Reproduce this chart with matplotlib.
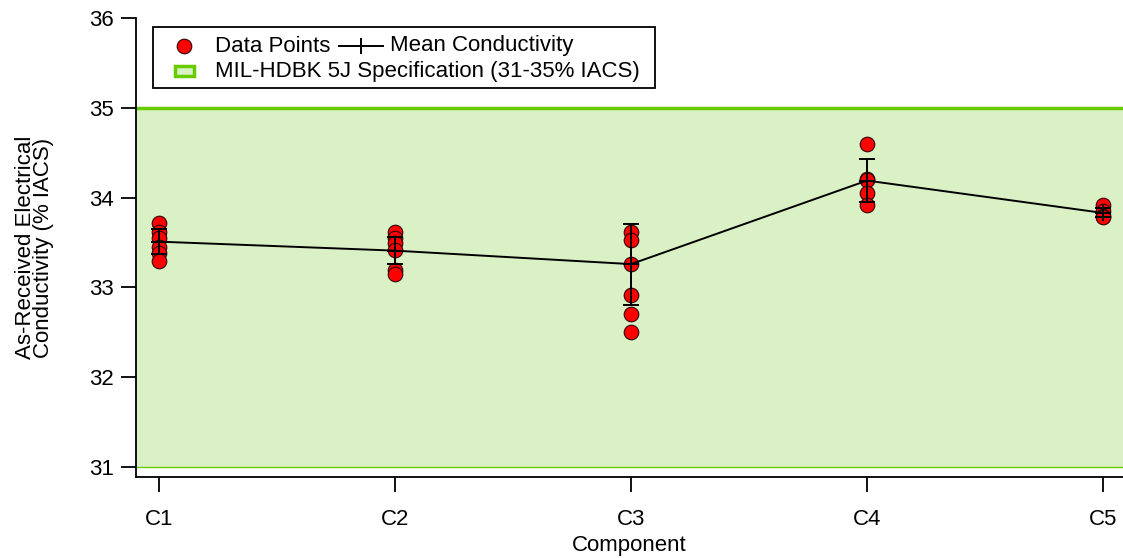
import matplotlib
matplotlib.use("Agg")
import matplotlib.pyplot as plt
from matplotlib.lines import Line2D
from matplotlib.patches import Rectangle

plt.rcParams['font.family'] = ['Liberation Sans', 'DejaVu Sans']

components = ["C1", "C2", "C3", "C4", "C5"]
data_points = [
    [33.72, 33.62, 33.55, 33.45, 33.38, 33.30],
    [33.62, 33.55, 33.50, 33.42, 33.20, 33.15],
    [33.62, 33.53, 33.26, 32.92, 32.71, 32.50],
    [34.60, 34.21, 34.20, 34.05, 33.92],
    [33.92, 33.85, 33.80, 33.78],
]
mean_values = [33.51, 33.41, 33.26, 34.19, 33.83]
mean_errors = [0.14, 0.15, 0.45, 0.24, 0.05]
spec_low, spec_high = 31, 35
y_ticks = [31, 32, 33, 34, 35, 36]

FS = 16
W, H = 1123, 558
fig = plt.figure(figsize=(W / 100, H / 100), dpi=100)
ax = fig.add_axes([136 / W, 1 - 477 / H, 1 - 136 / W, (477 - 18) / H])

band_fill = '#daf1c6'
band_line = '#66cc00'
ax.axhspan(spec_low, spec_high, color=band_fill, lw=0, zorder=0)
ax.axhline(spec_high, color=band_line, lw=2.5, zorder=1)
ax.axhline(spec_low, color=band_line, lw=1, zorder=1)

xs = list(range(1, len(components) + 1))
for x, pts in zip(xs, data_points):
    ax.plot([x] * len(pts), pts, 'o', ms=10.5, mfc='#ff0000', mec='#300000',
            mew=0.8, zorder=2, clip_on=False)

ax.errorbar(xs, mean_values, yerr=mean_errors, color='black', lw=1.4,
            marker='+', ms=12, mew=1.4, capsize=5.5, capthick=1.4, zorder=3)

ax.set_xlim(0.902, 5.085)
ax.set_ylim(30.89, 36)
ax.set_xticks(xs)
ax.set_xticklabels(components)
ax.set_yticks(y_ticks)
ax.tick_params(axis='both', direction='out', length=11, width=1.3,
               labelsize=FS, color='black')
ax.tick_params(axis='y', pad=5)
ax.tick_params(axis='x', pad=12)
for s in ['top', 'right']:
    ax.spines[s].set_visible(False)
for s in ['left', 'bottom']:
    ax.spines[s].set_linewidth(1.3)

ax.set_xlabel("Component", fontsize=FS, labelpad=4)
ax.set_ylabel("As-Received Electrical\nConductivity (% IACS)", fontsize=FS,
              labelpad=25, linespacing=0.85)

# Legend (custom layout: two entries on the first row, one on the second)
def fx(px):
    return px / W

def fy(py):
    return 1 - py / H

fig.add_artist(Rectangle((fx(153), fy(88)), fx(655) - fx(153), fy(27) - fy(88),
                         transform=fig.transFigure, fill=False, ec='black', lw=1.3))
fig.add_artist(Line2D([fx(184)], [fy(46)], transform=fig.transFigure, marker='o',
                      ms=10.5, mfc='#ff0000', mec='#300000', mew=0.8, ls='none'))
fig.text(fx(215), fy(46), "Data Points", fontsize=FS, va='center', ha='left')
fig.add_artist(Line2D([fx(339), fx(383)], [fy(46), fy(46)], transform=fig.transFigure,
                      color='black', lw=1.4))
fig.add_artist(Line2D([fx(361)], [fy(46)], transform=fig.transFigure, marker='|',
                      ms=12, mew=1.4, color='black', ls='none'))
fig.text(fx(390), fy(46), "Mean Conductivity", fontsize=FS, va='center', ha='left')
fig.add_artist(Rectangle((fx(175), fy(76)), fx(194) - fx(175), fy(66) - fy(76),
                         transform=fig.transFigure, fc=band_fill, ec=band_line, lw=2.5))
fig.text(fx(215), fy(71), "MIL-HDBK 5J Specification (31-35% IACS)", fontsize=FS,
         va='center', ha='left')

fig.savefig("out.png", dpi=100)
